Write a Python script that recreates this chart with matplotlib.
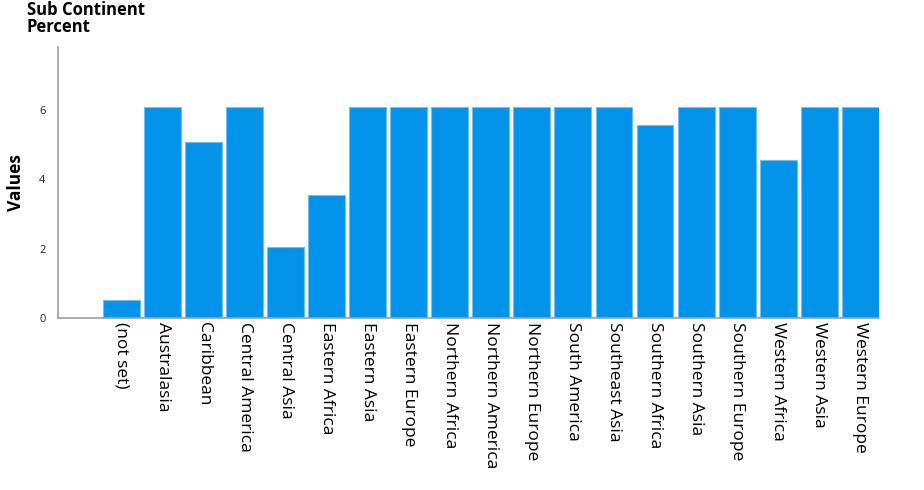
import matplotlib
matplotlib.use("Agg")
import matplotlib.pyplot as plt

# Sub continent share of sessions (percent)
sub_continents = [
    "(not set)", "Australasia", "Caribbean", "Central America", "Central Asia",
    "Eastern Africa", "Eastern Asia", "Eastern Europe", "Northern Africa",
    "Northern America", "Northern Europe", "South America", "Southeast Asia",
    "Southern Africa", "Southern Asia", "Southern Europe", "Western Africa",
    "Western Asia", "Western Europe",
]
percent = [
    0.51, 6.08, 5.07, 6.08, 2.03,
    3.55, 6.08, 6.08, 6.08,
    6.08, 6.08, 6.08, 6.08,
    5.57, 6.08, 6.08, 4.56,
    6.08, 6.08,
]
y_ticks = [0, 2, 4, 6]

plt.rcParams['font.family'] = ['Open Sans', 'DejaVu Sans']

fig = plt.figure(figsize=(9.24, 4.9), dpi=100)
ax = fig.add_axes([0.0628, 0.351, 0.889, 0.553])

x = list(range(len(sub_continents)))
ax.bar(x, percent, width=0.9, color='#0393EB', edgecolor='#6CC0F2', linewidth=0.8)

ax.set_xlim(-1.55, 18.47)
ax.set_ylim(0, 7.8)
ax.set_yticks(y_ticks)
ax.set_yticklabels([str(t) for t in y_ticks], fontsize=8, color='#222222')
ax.set_xticks(x)
ax.set_xticklabels(sub_continents, rotation=270, fontsize=12.5, ha='center', va='top')
ax.tick_params(axis='both', length=0)
ax.tick_params(axis='y', pad=9)
ax.tick_params(axis='x', pad=3)

for side in ('top', 'right'):
    ax.spines[side].set_visible(False)
for side in ('left', 'bottom'):
    ax.spines[side].set_color('#a0a0a0')
    ax.spines[side].set_linewidth(1.2)

ax.set_ylabel('Values', fontsize=12.5, fontweight='bold', labelpad=10)
fig.text(0.029, 0.997, 'Sub Continent\nPercent', fontsize=12, fontweight='bold',
         va='top', ha='left', linespacing=0.9)

fig.savefig('out.png', dpi=100)
